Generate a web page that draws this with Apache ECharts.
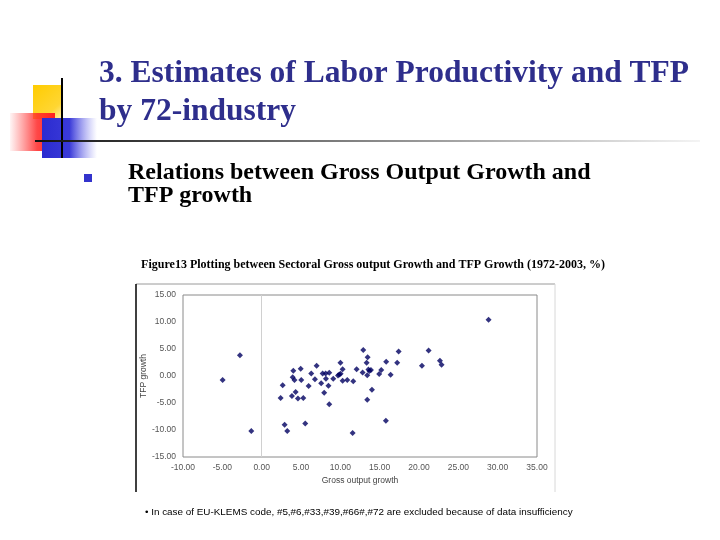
<!DOCTYPE html>
<html><head><meta charset="utf-8">
<script src="https://cdn.jsdelivr.net/npm/echarts@6/dist/echarts.min.js"></script>
<style>html,body{margin:0;padding:0;background:#fff}#c{width:720px;height:540px}</style>
</head><body><div id="c"></div>
<script>
// Data (Gross output growth %, TFP growth %)
const grossOutputGrowth = [-4.96,-2.76,-1.32,2.41,2.67,2.92,3.25,3.85,3.94,4.02,4.17,4.32,4.61,4.96,5.03,5.29,5.54,5.97,6.30,6.77,6.99,7.57,7.75,7.95,8.13,8.17,8.49,8.59,8.59,9.10,10.01,9.70,9.86,10.04,10.29,10.29,10.88,11.64,11.56,12.07,12.83,12.91,13.34,13.47,13.42,13.42,13.57,13.70,13.89,14.02,14.94,15.20,15.83,15.79,16.39,17.23,17.41,20.37,21.22,22.66,22.87,28.84];
const tfpGrowth = [-0.74,3.85,-10.17,-4.09,-1.73,-9.05,-10.17,-3.72,-0.24,0.99,-0.74,-2.97,-4.18,1.36,-0.74,-4.09,-8.79,-1.86,0.46,-0.61,1.91,-1.36,0.46,-3.10,0.46,-0.50,-1.80,0.61,-5.24,-0.50,2.47,0.09,0.28,0.43,1.25,-0.87,-0.74,-0.99,-10.54,1.25,0.65,4.83,2.47,3.48,0.13,-4.41,1.21,0.93,1.12,-2.55,0.37,1.12,2.66,-8.31,0.24,2.47,4.52,1.91,4.70,2.84,2.10,10.41];
const xTicks = {min:-10, max:35, interval:5};
const yTicks = {min:-15, max:15, interval:5};

const points = grossOutputGrowth.map((x,i)=>[x, tfpGrowth[i]]);
const chart = echarts.init(document.getElementById('c'), null, {renderer:'canvas'});
const titleColor = '#2e2e8c';
chart.setOption({
  backgroundColor:'#fff',
  animation:false,
  grid:{left:183, right:183, top:295, bottom:83, show:true, borderColor:'#8a8a8a', borderWidth:1, backgroundColor:'#fff'},
  xAxis:{type:'value', min:xTicks.min, max:xTicks.max, interval:xTicks.interval,
    name:'Gross output growth', nameLocation:'middle', nameGap:19,
    nameTextStyle:{fontFamily:'Liberation Sans', fontSize:8.5, color:'#444'},
    axisLine:{show:false, onZero:false}, axisTick:{show:false}, splitLine:{show:false},
    axisLabel:{fontFamily:'Liberation Sans', fontSize:8.5, color:'#555', margin:6, formatter:v=>v.toFixed(2)}},
  yAxis:{type:'value', min:yTicks.min, max:yTicks.max, interval:yTicks.interval,
    name:'TFP growth', nameLocation:'middle', nameGap:30,
    nameTextStyle:{fontFamily:'Liberation Sans', fontSize:8.5, color:'#444'},
    axisLine:{show:false, onZero:false}, axisTick:{show:false}, splitLine:{show:false},
    axisLabel:{fontFamily:'Liberation Sans', fontSize:8.5, color:'#555', margin:7, formatter:v=>v.toFixed(2)}},
  series:[{type:'scatter', data:points, symbol:'diamond', symbolSize:6,
    itemStyle:{color:'#000060'},
    markLine:{silent:true, symbol:'none', label:{show:false},
      lineStyle:{color:'#d0d0d0', type:'solid', width:1},
      data:[{xAxis:0}]}
  }],
  graphic:[
    // decorations
    {type:'rect', shape:{x:33,y:85,width:30,height:34},
      style:{fill:new echarts.graphic.LinearGradient(0,0,1,1,[{offset:0,color:'#ffcc00'},{offset:0.7,color:'#ffd633'},{offset:1,color:'#fff2b3'}])}},
    {type:'rect', shape:{x:10,y:113,width:45,height:38},
      style:{fill:new echarts.graphic.LinearGradient(0,0,1,0,[{offset:0,color:'rgba(255,60,60,0.05)'},{offset:0.6,color:'rgba(255,40,40,0.85)'},{offset:1,color:'#ff2020'}])}},
    {type:'rect', shape:{x:42,y:118,width:55,height:40},
      style:{fill:new echarts.graphic.LinearGradient(0,0,1,0,[{offset:0,color:'#2b2bd0'},{offset:0.5,color:'#3a3ad8'},{offset:1,color:'rgba(120,120,240,0)'}])}},
    {type:'line', shape:{x1:62,y1:78,x2:62,y2:158}, style:{stroke:'#000',lineWidth:2}},
    {type:'rect', shape:{x:35,y:140,width:665,height:2},
      style:{fill:new echarts.graphic.LinearGradient(0,0,1,0,[{offset:0,color:'#111'},{offset:0.35,color:'#666'},{offset:1,color:'#f4f4f4'}])}},
    // title
    {type:'text', left:99, top:58, style:{text:'3. Estimates of Labor Productivity and TFP', fontFamily:'Liberation Serif', fontWeight:'bold', fontSize:31.5, fill:titleColor}},
    {type:'text', left:99, top:96, style:{text:'by 72-industry', fontFamily:'Liberation Serif', fontWeight:'bold', fontSize:31.5, fill:titleColor}},
    // bullet
    {type:'rect', shape:{x:84,y:174,width:8,height:8}, style:{fill:'#3333cc'}},
    {type:'text', left:128, top:161, style:{text:'Relations between Gross Output Growth and', fontFamily:'Liberation Serif', fontWeight:'bold', fontSize:24, fill:'#000'}},
    {type:'text', left:128, top:184, style:{text:'TFP growth', fontFamily:'Liberation Serif', fontWeight:'bold', fontSize:24, fill:'#000'}},
    // figure caption
    {type:'text', x:373, y:265, style:{text:'Figure13 Plotting between Sectoral Gross output Growth and TFP Growth (1972-2003, %)', fontFamily:'Liberation Serif', fontWeight:'bold', fontSize:12, fill:'#000', align:'center', verticalAlign:'middle'}},
    // outer chart frame
    {type:'line', shape:{x1:136,y1:284,x2:555,y2:284}, style:{stroke:'#9a9a9a',lineWidth:1}},
    {type:'line', shape:{x1:136,y1:284,x2:136,y2:492}, style:{stroke:'#000',lineWidth:1.5}},
    {type:'line', shape:{x1:555,y1:284,x2:555,y2:492}, style:{stroke:'#d8d8d8',lineWidth:1}},
    // footnote
    {type:'text', left:145, top:507, style:{text:'\u2022 In case of EU-KLEMS code, #5,#6,#33,#39,#66#,#72 are excluded because of data insufficiency', fontFamily:'Liberation Sans', fontSize:9.9, fill:'#000'}}
  ]
});
</script></body></html>
